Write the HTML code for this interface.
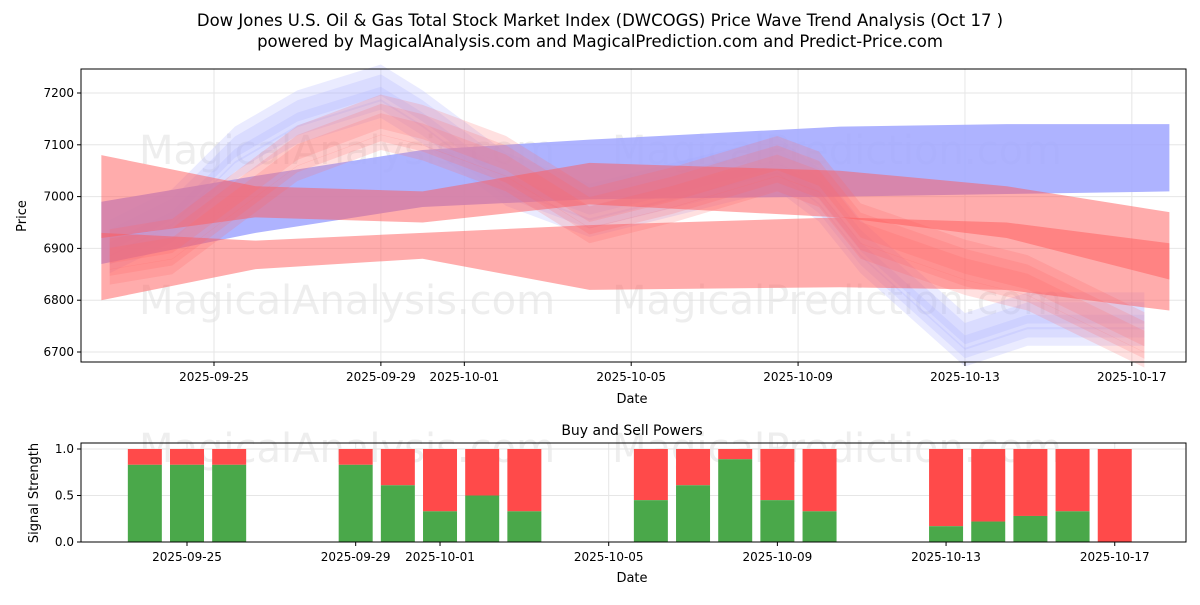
<!DOCTYPE html>
<html><head><meta charset="utf-8"><style>
body{margin:0;background:#fff;font-family:"Liberation Sans","DejaVu Sans",sans-serif}
svg text{font-family:"DejaVu Sans","Liberation Sans",sans-serif}
</style></head><body>
<svg id="c" width="1200" height="600" xmlns="http://www.w3.org/2000/svg">
<text x="600" y="26" font-size="16.5" text-anchor="middle">Dow Jones U.S. Oil &amp; Gas Total Stock Market Index (DWCOGS) Price Wave Trend Analysis (Oct 17 )</text>
<text x="600" y="47" font-size="16.5" text-anchor="middle">powered by MagicalAnalysis.com and MagicalPrediction.com and Predict-Price.com</text>
<g id="gtop"></g><g id="gbot"></g>
</svg>
<script>
const priceTicks=[6700,6800,6900,7000,7100,7200];
const dateLabels=["2025-09-25","2025-09-29","2025-10-01","2025-10-05","2025-10-09","2025-10-13","2025-10-17"];
const dateDays=[3,7,9,13,17,21,25];
const bandDays=[0.3,4,8,12,18,22,25.9];
const blueLow=[6870,6930,6980,6995,7000,7005,7010];
const blueHigh=[6990,7040,7090,7110,7135,7140,7140];
const redALow=[6920,6960,6950,6985,6960,6920,6840];
const redAHigh=[7080,7020,7010,7065,7050,7020,6970];
const redBLow=[6800,6860,6880,6820,6825,6820,6780];
const redBHigh=[6930,6915,6930,6945,6960,6950,6910];
const waveDays=[0.5,2,3.5,5,7,8,10,12,14,16.5,17.5,18.5,21,22.5,25.3];
const waveBlue=[6900,6960,7080,7150,7200,7150,7030,6970,7010,7060,7000,6900,6720,6760,6760];
const waveRed=[6880,6900,6990,7080,7140,7120,7060,6960,7000,7060,7030,6930,6860,6830,6720];
const buyDays=[2,3,4,7,8,9,10,11,14,15,16,17,18,21,22,23,24,25];
const buyVals=[0.83,0.83,0.83,0.83,0.61,0.33,0.5,0.33,0.45,0.61,0.89,0.45,0.33,0.17,0.22,0.28,0.33,0.0];
const sigTicks=[0,0.5,1];
const NS="http://www.w3.org/2000/svg";
function mk(p,t,a){const e=document.createElementNS(NS,t);for(const k in a)e.setAttribute(k,a[k]);p.appendChild(e);return e;}
const gTop=document.getElementById('gtop'),gBot=document.getElementById('gbot');
const X=d=>214+(d-3)*41.72, Y=v=>93+(7200-v)*0.518;
const XB=d=>187+(d-3)*42.17, YB=v=>542-v*93;
for(const d of dateDays){const g=mk(gTop,'line',{x1:X(d),x2:X(d),y1:69,y2:362,stroke:'#e6e6e6'});}
for(const v of priceTicks){const g=mk(gTop,'line',{x1:81,x2:1186,y1:Y(v),y2:Y(v),stroke:'#e6e6e6'});}
[[347,150,gTop],[837,150,gTop],[347,300,gTop],[837,300,gTop],[347,448,gBot],[837,448,gBot]].forEach(w=>{const t=mk(w[2],'text',{x:w[0],y:w[1]+14,'font-size':40,fill:'#ddd','fill-opacity':0.5,'text-anchor':'middle'});t.textContent=w[0]<500?'MagicalAnalysis.com':'MagicalPrediction.com';});
function band(days,lo,hi,col,op,name){let p='';days.forEach((d,i)=>p+=(i?'L':'M')+X(d)+','+Y(hi[i]));for(let i=days.length-1;i>=0;i--)p+='L'+X(days[i])+','+Y(lo[i]);const e=mk(gTop,'path',{d:p+'Z',fill:col,'fill-opacity':op});}
function wave(vals,col,off,hw,op,name){band(waveDays,vals.map(v=>v+off-hw),vals.map(v=>v+off+hw),col,op,name);}
[-30,-10,10,25].forEach((o,i)=>wave(waveBlue,'#aab0ff',o,18+i*4,0.25,'blue-wave'));
band(bandDays,blueLow,blueHigh,'#a0a6ff',0.85,'blue-band');
[-35,-15,0,15,30].forEach((o,i)=>wave(waveRed,'#ff7070',o,15+i*3,0.22,'red-wave'));
band(bandDays,redALow,redAHigh,'#ff5a5a',0.5,'red-band-upper');
band(bandDays,redBLow,redBHigh,'#ff5a5a',0.5,'red-band-lower');
mk(gTop,'rect',{x:81,y:69,width:1105,height:293,fill:'none',stroke:'#000'});
for(const v of priceTicks){mk(gTop,'line',{x1:77,x2:81,y1:Y(v),y2:Y(v),stroke:'#000'});const t=mk(gTop,'text',{x:74,y:Y(v)+4,'font-size':12,'text-anchor':'end'});t.textContent=v;}
dateDays.forEach((d,i)=>{mk(gTop,'line',{x1:X(d),x2:X(d),y1:362,y2:366,stroke:'#000'});const t=mk(gTop,'text',{x:X(d),y:381,'font-size':12,'text-anchor':'middle'});t.textContent=dateLabels[i];});
let t=mk(gTop,'text',{x:632,y:403,'font-size':13,'text-anchor':'middle'});t.textContent='Date';
t=mk(gTop,'text',{x:26,y:216,'font-size':13,'text-anchor':'middle',transform:'rotate(-90 26 216)'});t.textContent='Price';
for(const d of dateDays){const g=mk(gBot,'line',{x1:XB(d),x2:XB(d),y1:443,y2:542,stroke:'#e6e6e6'});}
for(const v of sigTicks){const g=mk(gBot,'line',{x1:81,x2:1186,y1:YB(v),y2:YB(v),stroke:'#e6e6e6'});}
buyDays.forEach((d,i)=>{const x=XB(d)-17;
const s=mk(gBot,'rect',{x:x,y:YB(1),width:34,height:YB(buyVals[i])-YB(1),fill:'#ff4a4a'});
const b=mk(gBot,'rect',{x:x,y:YB(buyVals[i]),width:34,height:542-YB(buyVals[i]),fill:'#4aa84a'});});
mk(gBot,'rect',{x:81,y:443,width:1105,height:99,fill:'none',stroke:'#000'});
for(const v of sigTicks){mk(gBot,'line',{x1:77,x2:81,y1:YB(v),y2:YB(v),stroke:'#000'});const t=mk(gBot,'text',{x:74,y:YB(v)+4,'font-size':12,'text-anchor':'end'});t.textContent=v.toFixed(1);}
dateDays.forEach((d,i)=>{mk(gBot,'line',{x1:XB(d),x2:XB(d),y1:542,y2:546,stroke:'#000'});const t=mk(gBot,'text',{x:XB(d),y:561,'font-size':12,'text-anchor':'middle'});t.textContent=dateLabels[i];});
t=mk(gBot,'text',{x:632,y:582,'font-size':13,'text-anchor':'middle'});t.textContent='Date';
t=mk(gBot,'text',{x:632,y:435,'font-size':14,'text-anchor':'middle'});t.textContent='Buy and Sell Powers';
t=mk(gBot,'text',{x:38,y:493,'font-size':13,'text-anchor':'middle',transform:'rotate(-90 38 493)'});t.textContent='Signal Strength';
</script>
</body></html>
